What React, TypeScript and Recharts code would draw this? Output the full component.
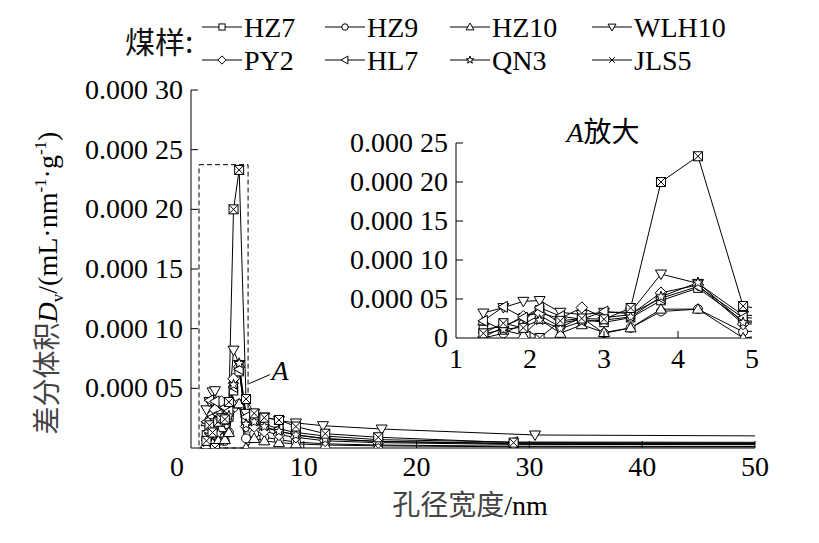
import React from 'react';
import { LineChart, Line, XAxis, YAxis, ReferenceArea, ReferenceLine, ReferenceDot } from 'recharts';

// ---------- data ----------
const seriesNames = ['HZ7', 'HZ9', 'HZ10', 'WLH10', 'PY2', 'HL7', 'QN3', 'JLS5'];
const markerKinds = ['square', 'circle', 'triUp', 'triDown', 'diamond', 'triLeft', 'star', 'boxCross'];

// pore width (nm)
const poreWidthA = [1.37, 1.64, 1.91, 2.13, 2.41, 2.7, 3.0, 3.36, 3.77, 4.27, 4.88, 5.6, 6.5, 7.8, 9.3, 11.9, 16.6, 28.6, 80];
const poreWidthB = [1.37, 1.64, 1.91, 2.13, 2.41, 2.7, 3.0, 3.36, 3.77, 4.27, 4.88, 5.6, 6.5, 7.8, 9.3, 11.7, 16.9, 30.5, 80];

// differential volume Dv (mL·nm^-1·g^-1)
const hz7 = [1.1e-5, 1.5e-5, 2.6e-5, 3.6e-5, 1.9e-5, 2.4e-5, 2.0e-5, 2.6e-5, 4.8e-5, 6.4e-5, 2.2e-5, 2.0e-5, 1.7e-5, 1.4e-5, 1.1e-5, 0.8e-5, 0.55e-5, 0.35e-5, 0.3e-5];
const hz9 = [0.0, 0.6e-5, 1.8e-5, 2.9e-5, 1.4e-5, 2.6e-5, 0.6e-5, 1.3e-5, 3.4e-5, 3.7e-5, 0.8e-5, 1.2e-5, 0.9e-5, 0.7e-5, 0.5e-5, 0.35e-5, 0.25e-5, 0.15e-5, 0.1e-5];
const hz10 = [2.2e-5, 1.0e-5, 0.4e-5, 2.4e-5, 0.6e-5, 1.7e-5, 0.7e-5, 1.3e-5, 3.7e-5, 3.7e-5, 0.0, 0.8e-5, 0.6e-5, 0.45e-5, 0.35e-5, 0.25e-5, 0.18e-5, 0.1e-5, 0.08e-5];
const wlh10 = [3.2e-5, 3.9e-5, 4.7e-5, 4.8e-5, 3.3e-5, 3.0e-5, 3.3e-5, 3.3e-5, 8.2e-5, 7.0e-5, 2.9e-5, 2.9e-5, 2.6e-5, 2.3e-5, 2.1e-5, 1.87e-5, 1.59e-5, 1.09e-5, 0.9e-5];
const py2 = [0.1e-5, 1.4e-5, 2.8e-5, 3.2e-5, 2.5e-5, 3.9e-5, 2.6e-5, 3.0e-5, 5.8e-5, 6.8e-5, 1.8e-5, 1.8e-5, 1.4e-5, 1.1e-5, 0.9e-5, 0.6e-5, 0.45e-5, 0.3e-5, 0.25e-5];
const hl7 = [2.2e-5, 4.0e-5, 2.6e-5, 3.9e-5, 2.8e-5, 2.4e-5, 3.4e-5, 3.1e-5, 5.1e-5, 6.6e-5, 2.6e-5, 2.4e-5, 2.0e-5, 1.6e-5, 1.3e-5, 1.0e-5, 0.7e-5, 0.5e-5, 0.45e-5];
const qn3 = [0.5e-5, 1.1e-5, 1.4e-5, 2.3e-5, 1.2e-5, 2.1e-5, 2.3e-5, 2.7e-5, 5.3e-5, 7.1e-5, 2.0e-5, 2.2e-5, 1.8e-5, 1.4e-5, 1.1e-5, 0.75e-5, 0.55e-5, 0.4e-5, 0.35e-5];
const jls5 = [0.6e-5, 1.9e-5, 1.3e-5, 0.0, 2.2e-5, 2.5e-5, 2.4e-5, 3.85e-5, 20.0e-5, 23.3e-5, 4.1e-5, 2.9e-5, 2.54e-5, 2.35e-5, 1.8e-5, 1.2e-5, 0.9e-5, 0.45e-5, 0.35e-5];

const seriesValues = [hz7, hz9, hz10, wlh10, py2, hl7, qn3, jls5];
const seriesX = [poreWidthA, poreWidthA, poreWidthA, poreWidthB, poreWidthA, poreWidthA, poreWidthA, poreWidthA];

const mainXTicks = [0, 10, 20, 30, 40, 50];
const mainYTicks = [0, 5e-5, 10e-5, 15e-5, 20e-5, 25e-5, 30e-5];
const insetXTicks = [1, 2, 3, 4, 5];
const insetYTicks = [0, 5e-5, 10e-5, 15e-5, 20e-5, 25e-5];

const series = seriesNames.map((name, i) => ({
  name,
  kind: markerKinds[i],
  data: seriesValues[i].map((v, j) => ({ x: seriesX[i][j], y: v })),
}));

// ---------- styling ----------
const SERIF = 'Liberation Serif';
const CJK = 'Noto Sans CJK SC';
const FS = 28;

const fmt = (v: number) => {
  if (v === 0) return '0';
  const n = Math.round(v * 1e5);
  return '0.000 ' + String(n).padStart(2, '0');
};

const Marker = ({ kind, cx, cy, s = 5 }: { kind: string; cx: number; cy: number; s?: number }) => {
  const common = { fill: '#fff', stroke: '#000', strokeWidth: 1 };
  switch (kind) {
    case 'square':
      return <rect x={cx - s * 0.85} y={cy - s * 0.85} width={s * 1.7} height={s * 1.7} {...common} />;
    case 'circle':
      return <circle cx={cx} cy={cy} r={s * 0.9} {...common} />;
    case 'triUp':
      return <polygon points={`${cx},${cy - s * 1.1} ${cx + s * 1.1},${cy + s * 0.8} ${cx - s * 1.1},${cy + s * 0.8}`} {...common} />;
    case 'triDown':
      return <polygon points={`${cx},${cy + s * 1.1} ${cx + s * 1.1},${cy - s * 0.8} ${cx - s * 1.1},${cy - s * 0.8}`} {...common} />;
    case 'diamond':
      return <polygon points={`${cx},${cy - s * 1.15} ${cx + s * 1.15},${cy} ${cx},${cy + s * 1.15} ${cx - s * 1.15},${cy}`} {...common} />;
    case 'triLeft':
      return <polygon points={`${cx - s * 1.1},${cy} ${cx + s * 0.8},${cy - s * 1.1} ${cx + s * 0.8},${cy + s * 1.1}`} {...common} />;
    case 'star': {
      const pts: string[] = [];
      for (let k = 0; k < 10; k++) {
        const r = k % 2 === 0 ? s * 1.1 : s * 0.45;
        const a = -Math.PI / 2 + (k * Math.PI) / 5;
        pts.push(`${cx + r * Math.cos(a)},${cy + r * Math.sin(a)}`);
      }
      return <polygon points={pts.join(' ')} {...common} />;
    }
    case 'cross':
      return (
        <g stroke="#000" strokeWidth={1}>
          <line x1={cx - s * 0.8} y1={cy - s * 0.8} x2={cx + s * 0.8} y2={cy + s * 0.8} />
          <line x1={cx - s * 0.8} y1={cy + s * 0.8} x2={cx + s * 0.8} y2={cy - s * 0.8} />
        </g>
      );
    case 'boxCross':
    default:
      return (
        <g stroke="#000" strokeWidth={1}>
          <rect x={cx - s * 0.9} y={cy - s * 0.9} width={s * 1.8} height={s * 1.8} fill="#fff" />
          <line x1={cx - s * 0.9} y1={cy - s * 0.9} x2={cx + s * 0.9} y2={cy + s * 0.9} />
          <line x1={cx - s * 0.9} y1={cy + s * 0.9} x2={cx + s * 0.9} y2={cy - s * 0.9} />
        </g>
      );
  }
};

const makeDot = (name: string, kind: string) => (p: any) => {
  if (p.cx == null || p.cy == null || isNaN(p.cx) || isNaN(p.cy)) return <g key={`${name}-${p.index}`} />;
  return (
    <g key={`${name}-${p.index}`}>
      <Marker kind={kind} cx={p.cx} cy={p.cy} s={5} />
    </g>
  );
};

const Num = ({ x, y, anchor, children }: any) => (
  <text x={x} y={y} textAnchor={anchor} fontFamily={SERIF} fontSize={FS} fill="#000">
    {children}
  </text>
);

// ---------- ticks ----------
const MainYTick = (props: any) => {
  const { x, y, payload } = props;
  const v = payload.value;
  if (v === 0) return <g />;
  const ax = x + 8;
  return (
    <g>
      <line x1={ax} x2={ax + 7} y1={y} y2={y} stroke="#000" strokeWidth={1} />
      <Num x={x} y={y + 9} anchor="end">{fmt(v)}</Num>
    </g>
  );
};

const MainXTick = (props: any) => {
  const { x, y, payload } = props;
  const v = payload.value;
  return (
    <g>
      {v > 0 && <line x1={x} x2={x} y1={y} y2={y - 7} stroke="#000" strokeWidth={1} />}
      <Num x={v === 0 ? x - 14 : x} y={y + 28} anchor="middle">{String(v)}</Num>
    </g>
  );
};

const InsetYTick = (props: any) => {
  const { x, y, payload } = props;
  const v = payload.value;
  const ax = x + 8;
  return (
    <g>
      {v > 0 && <line x1={ax} x2={ax + 7} y1={y} y2={y} stroke="#000" strokeWidth={1} />}
      <Num x={x} y={y + 9} anchor="end">{fmt(v)}</Num>
    </g>
  );
};

const InsetXTick = (props: any) => {
  const { x, y, payload } = props;
  const v = payload.value;
  return (
    <g>
      {v > 1 && v < 5 && <line x1={x} x2={x} y1={y} y2={y - 7} stroke="#000" strokeWidth={1} />}
      <Num x={x} y={y + 30} anchor="middle">{String(v)}</Num>
    </g>
  );
};

const ALabel = (p: any) => (
  <text x={p.cx} y={p.cy + 10} textAnchor="middle" fontFamily={SERIF} fontSize={FS} fontStyle="italic" fill="#000">
    A
  </text>
);

// ---------- legend ----------
const legendCols = [202, 325, 450, 592];
const legendRows = [27, 60];

const LegendOverlay = () => (
  <g fill="#000">
    <text x={125} y={53} fontFamily={CJK} fontSize={30} fill="#111">煤样:</text>
    {series.map((s, i) => {
      const col = legendCols[i % 4];
      const row = legendRows[Math.floor(i / 4)];
      const kind = s.kind === 'boxCross' ? 'cross' : s.kind;
      return (
        <g key={s.name}>
          <line x1={col} x2={col + 40} y1={row} y2={row} stroke="#000" strokeWidth={1} />
          <Marker kind={kind} cx={col + 20} cy={row} s={3.6} />
          <text x={col + 42} y={row + 10} fontFamily={SERIF} fontSize={FS} fill="#000">{s.name}</text>
        </g>
      );
    })}
  </g>
);

export default function App() {
  return (
    <div style={{ position: 'absolute', left: 0, top: 0, width: 819, height: 543, background: '#fff' }}>
      <div style={{ position: 'absolute', left: 0, top: 0 }}>
        <LineChart width={819} height={543} margin={{ top: 90, right: 64, bottom: 65, left: 71 }}>
          <XAxis
            dataKey="x"
            type="number"
            domain={[0, 50]}
            ticks={mainXTicks}
            allowDataOverflow
            height={30}
            tickSize={0}
            tickMargin={0}
            tick={<MainXTick />}
            axisLine={{ stroke: '#000', strokeWidth: 1 }}
          />
          <YAxis
            type="number"
            domain={[0, 30e-5]}
            ticks={mainYTicks}
            allowDataOverflow
            width={120}
            tickSize={0}
            tickMargin={8}
            tick={<MainYTick />}
            axisLine={{ stroke: '#000', strokeWidth: 1 }}
          />
          <ReferenceArea
            x1={0.71}
            x2={5.06}
            y1={0}
            y2={23.74e-5}
            fill="none"
            fillOpacity={0}
            stroke="#000"
            strokeWidth={1}
            strokeDasharray="5 3"
          />
          {series.map((s) => (
            <Line
              key={s.name}
              data={s.data}
              dataKey="y"
              name={s.name}
              stroke="#000"
              strokeWidth={1}
              dot={makeDot(s.name, s.kind)}
              activeDot={false}
              isAnimationActive={false}
            />
          ))}
          <ReferenceLine
            segment={[
              { x: 5.17, y: 5.4e-5 },
              { x: 7.0, y: 6.15e-5 },
            ]}
            stroke="#000"
            strokeWidth={1}
          />
          <ReferenceDot x={7.9} y={6.5e-5} r={0} shape={ALabel} />
        </LineChart>
      </div>
      <div style={{ position: 'absolute', left: 340, top: 100 }}>
        <LineChart width={430} height={280} margin={{ top: 43, right: 18, bottom: 12, left: 0 }}>
          <XAxis
            dataKey="x"
            type="number"
            domain={[1, 5]}
            ticks={insetXTicks}
            allowDataOverflow
            height={30}
            tickSize={0}
            tickMargin={0}
            tick={<InsetXTick />}
            axisLine={{ stroke: '#000', strokeWidth: 1 }}
          />
          <YAxis
            type="number"
            domain={[0, 25e-5]}
            ticks={insetYTicks}
            allowDataOverflow
            width={116}
            tickSize={0}
            tickMargin={8}
            tick={<InsetYTick />}
            axisLine={{ stroke: '#000', strokeWidth: 1 }}
          />
          {series.map((s) => (
            <Line
              key={s.name}
              data={s.data}
              dataKey="y"
              name={s.name}
              stroke="#000"
              strokeWidth={1}
              dot={makeDot('in-' + s.name, s.kind)}
              activeDot={false}
              isAnimationActive={false}
            />
          ))}
        </LineChart>
      </div>
      <svg width={819} height={543} style={{ position: 'absolute', left: 0, top: 0, pointerEvents: 'none' }}>
        <LegendOverlay />
        <text x={603} y={142} textAnchor="middle" fontFamily={SERIF} fontSize={FS} fill="#000">
          <tspan fontStyle="italic">A</tspan>
          <tspan fontFamily={CJK}>放大</tspan>
        </text>
        <g transform="translate(47,283) rotate(-90)">
          <text x={0} y={10} textAnchor="middle" fontFamily={SERIF} fontSize={FS} fill="#000">
            <tspan fontFamily={CJK} fill="#444">差分体积</tspan>
            <tspan fontStyle="italic">D</tspan>
            <tspan fontSize={17} dy={6}>v</tspan>
            <tspan dy={-6}>/(mL·nm</tspan>
            <tspan fontSize={17} dy={-11}>-1</tspan>
            <tspan dy={11}>·g</tspan>
            <tspan fontSize={17} dy={-11}>-1</tspan>
            <tspan dy={11}>)</tspan>
          </text>
        </g>
        <text x={470} y={515} textAnchor="middle" fontFamily={SERIF} fontSize={FS} fill="#000">
          <tspan fontFamily={CJK} fill="#444">孔径宽度</tspan>
          <tspan>/nm</tspan>
        </text>
      </svg>
    </div>
  );
}
